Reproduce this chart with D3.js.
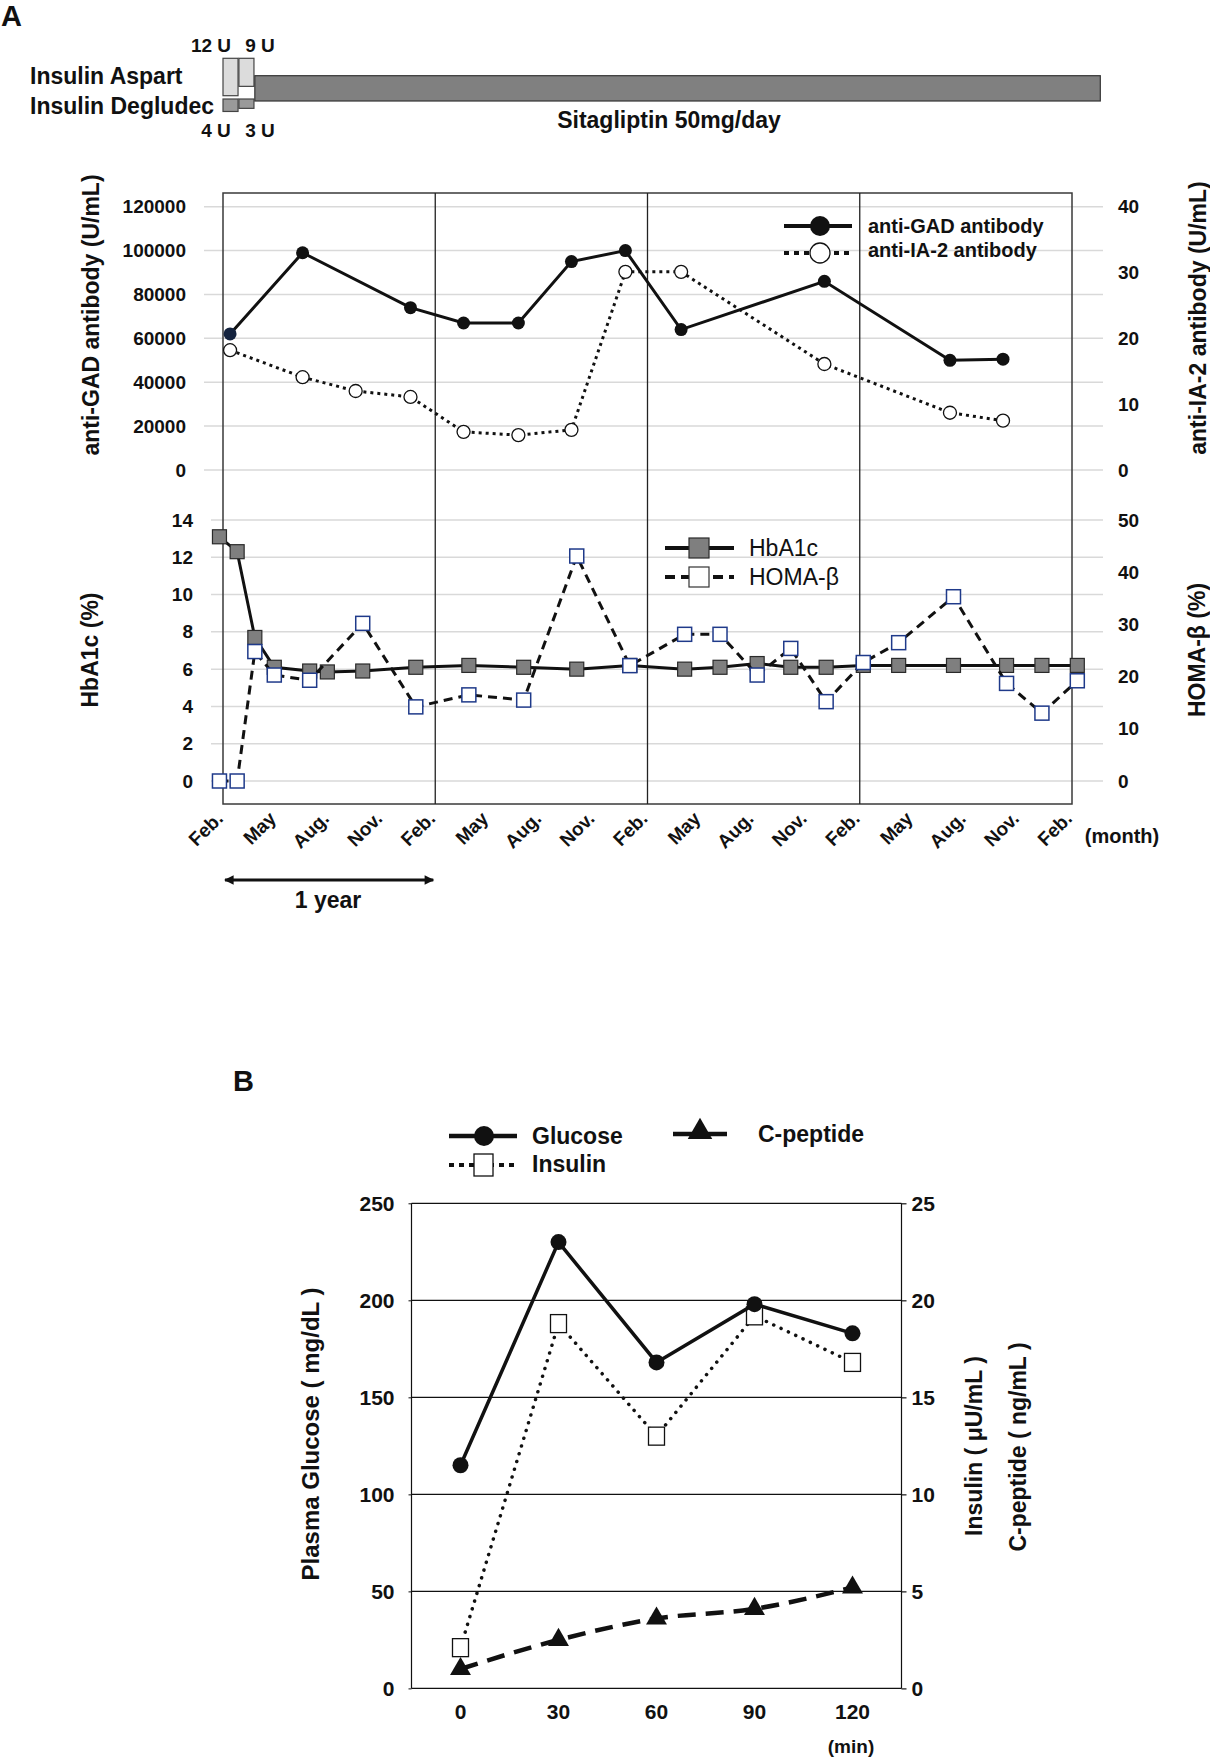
<!DOCTYPE html>
<html>
<head>
<meta charset="utf-8">
<script src="https://cdn.jsdelivr.net/npm/d3@7"></script>
<style>
  body { margin: 0; background: #fff; }
</style>
</head>
<body>
<div class="chart-container"></div>
<script>
// ---- panel A : treatment ----
const aspartDose = [12, 9];
const aspartSpan = [[0, 0.85], [0.9, 1.75]];   // months from first Feb.
const degludecDose = [4, 3];
const degludecSpan = [[0, 0.85], [0.9, 1.75]];
const sitagliptinSpan = [1.8, 49.6];

// ---- panel A : antibodies ----
const gadMonths = [0.4, 4.5, 10.6, 13.6, 16.7, 19.7, 22.75, 25.9, 34.0, 41.1, 44.1];
const gadValues = [62000, 99000, 74000, 67000, 67000, 95000, 100000, 64000, 86000, 50000, 50500];
const ia2Months = [0.4, 4.5, 7.5, 10.6, 13.6, 16.7, 19.7, 22.75, 25.9, 34.0, 41.1, 44.1];
const ia2Values = [18.2, 14.1, 12.0, 11.1, 5.8, 5.3, 6.1, 30.1, 30.1, 16.1, 8.7, 7.5];

// ---- panel A : HbA1c / HOMA-beta ----
const hbMonths = [-0.2, 0.8, 1.8, 2.9, 4.9, 5.9, 7.9, 10.9, 13.9, 17.0, 20.0, 23.0,
                  26.1, 28.1, 30.2, 32.1, 34.1, 36.2, 38.2, 41.3, 44.3, 46.3, 48.3];
const hbValues = [13.1, 12.3, 7.7, 6.1, 5.9, 5.85, 5.9, 6.1, 6.2, 6.1, 6.0, 6.2,
                  6.0, 6.1, 6.3, 6.1, 6.1, 6.2, 6.2, 6.2, 6.2, 6.2, 6.2];
const homaMonths = [-0.2, 0.8, 1.8, 2.9, 4.9, 7.9, 10.9, 13.9, 17.0, 20.0, 23.0,
                    26.1, 28.1, 30.2, 32.1, 34.1, 36.2, 38.2, 41.3, 44.3, 46.3, 48.3];
const homaValues = [0, 0, 24.8, 20.3, 19.3, 30.2, 14.2, 16.5, 15.5, 43.1, 22.1,
                    28.1, 28.1, 20.3, 25.4, 15.2, 22.7, 26.5, 35.3, 18.7, 13.0, 19.2];

const monthTicks = d3.range(0, 49, 3);
const monthLabels = ['Feb.', 'May', 'Aug.', 'Nov.', 'Feb.', 'May', 'Aug.', 'Nov.', 'Feb.',
                     'May', 'Aug.', 'Nov.', 'Feb.', 'May', 'Aug.', 'Nov.', 'Feb.'];
const gadTicks = [0, 20000, 40000, 60000, 80000, 100000, 120000];
const ia2Ticks = [0, 10, 20, 30, 40];
const hbTicks = [0, 2, 4, 6, 8, 10, 12, 14];
const homaTicks = [0, 10, 20, 30, 40, 50];

// ---- panel B : OGTT ----
const ogttTimes = ['0', '30', '60', '90', '120'];
const glucose = [115, 230, 168, 198, 183];
const insulin = [2.1, 18.8, 13.0, 19.2, 16.8];
const cpeptide = [1.0, 2.5, 3.6, 4.1, 5.2];
const glucoseTicks = [0, 50, 100, 150, 200, 250];
const insulinTicks = [0, 5, 10, 15, 20, 25];

const FONT = '"Liberation Sans", Arial, Helvetica, sans-serif';
const width = 1210;
const height = 1757;

const svg = d3.select('.chart-container')
  .append('svg')
  .attr('width', width)
  .attr('height', height)
  .attr('font-family', FONT)
  .attr('font-weight', 'bold')
  .style('background', '#fff');

function styleAxis(g, size) {
  g.attr('font-size', size).attr('font-family', FONT).attr('font-weight', 'bold');
  g.select('.domain').remove();
  g.selectAll('text').attr('fill', '#111');
}

function label(x, y, txt, size, opts = {}) {
  const t = svg.append('text')
    .attr('x', x).attr('y', y)
    .attr('dy', '0.35em')
    .attr('font-size', size)
    .attr('fill', '#111')
    .attr('text-anchor', opts.anchor || 'start')
    .text(txt);
  if (opts.rotate) t.attr('transform', `rotate(${opts.rotate},${x},${y})`);
  if (opts.weight) t.attr('font-weight', opts.weight);
  return t;
}

// ================= PANEL A =================
const frame = { left: 223, right: 1072, top: 193, bottom: 804 };
const xA = d3.scaleLinear().domain([0, 48]).range([frame.left, frame.right]);
const yGad = d3.scaleLinear().domain([0, 120000]).range([470, 206.7]);
const yIa2 = d3.scaleLinear().domain([0, 40]).range([470, 206.7]);
const yHb = d3.scaleLinear().domain([0, 14]).range([781, 520]);
const yHoma = d3.scaleLinear().domain([0, 50]).range([781, 520]);
const yDose = d3.scaleLinear().domain([0, 12]).range([0, 37.4]);

label(1, 16, 'A', 29);

// treatment bars
const treat = svg.append('g').attr('class', 'treatment');
treat.selectAll('.aspart')
  .data(aspartDose)
  .enter()
  .append('rect')
  .attr('class', 'aspart')
  .attr('x', (d, i) => xA(aspartSpan[i][0]))
  .attr('y', 58.3)
  .attr('width', (d, i) => xA(aspartSpan[i][1]) - xA(aspartSpan[i][0]))
  .attr('height', d => yDose(d))
  .style('fill', '#dcdcdc')
  .style('stroke', '#444')
  .style('stroke-width', 1.2);
treat.selectAll('.degludec')
  .data(degludecDose)
  .enter()
  .append('rect')
  .attr('class', 'degludec')
  .attr('x', (d, i) => xA(degludecSpan[i][0]))
  .attr('y', 99)
  .attr('width', (d, i) => xA(degludecSpan[i][1]) - xA(degludecSpan[i][0]))
  .attr('height', d => yDose(d))
  .style('fill', '#9a9a9a')
  .style('stroke', '#444')
  .style('stroke-width', 1.2);
treat.append('rect')
  .attr('x', xA(sitagliptinSpan[0]))
  .attr('y', 75.7)
  .attr('width', xA(sitagliptinSpan[1]) - xA(sitagliptinSpan[0]))
  .attr('height', 25.3)
  .style('fill', '#808080')
  .style('stroke', '#333')
  .style('stroke-width', 1.2);

label(30, 76, 'Insulin Aspart', 23);
label(30, 106, 'Insulin Degludec', 23);
aspartDose.forEach((d, i) => label(i === 0 ? 211 : 260, 45, `${d} U`, 19, { anchor: 'middle' }));
degludecDose.forEach((d, i) => label(i === 0 ? 216 : 260, 130, `${d} U`, 19, { anchor: 'middle' }));
label(669, 120, 'Sitagliptin 50mg/day', 23, { anchor: 'middle' });

// gridlines
svg.append('g').selectAll('line')
  .data(gadTicks)
  .enter()
  .append('line')
  .attr('x1', 204).attr('x2', 1103)
  .attr('y1', d => yGad(d)).attr('y2', d => yGad(d))
  .style('stroke', '#d9d9d9').style('stroke-width', 1.5);
svg.append('g').selectAll('line')
  .data(hbTicks)
  .enter()
  .append('line')
  .attr('x1', 211).attr('x2', 1103)
  .attr('y1', d => yHb(d)).attr('y2', d => yHb(d))
  .style('stroke', '#d9d9d9').style('stroke-width', 1.5);

// frame with yearly dividers
svg.append('rect')
  .attr('x', frame.left).attr('y', frame.top)
  .attr('width', frame.right - frame.left).attr('height', frame.bottom - frame.top)
  .style('fill', 'none').style('stroke', '#3a3a3a').style('stroke-width', 1.5);
svg.append('g').selectAll('line')
  .data([12, 24, 36])
  .enter()
  .append('line')
  .attr('x1', d => xA(d)).attr('x2', d => xA(d))
  .attr('y1', frame.top).attr('y2', frame.bottom)
  .style('stroke', '#222').style('stroke-width', 1.3);

// axes
svg.append('g').attr('transform', 'translate(186,0)')
  .call(d3.axisLeft(yGad).tickValues(gadTicks).tickFormat(d3.format('d')).tickSize(0).tickPadding(0))
  .call(g => styleAxis(g, 19));
svg.append('g').attr('transform', 'translate(1118,0)')
  .call(d3.axisRight(yIa2).tickValues(ia2Ticks).tickSize(0).tickPadding(0))
  .call(g => styleAxis(g, 19));
svg.append('g').attr('transform', 'translate(193,0)')
  .call(d3.axisLeft(yHb).tickValues(hbTicks).tickSize(0).tickPadding(0))
  .call(g => styleAxis(g, 19));
svg.append('g').attr('transform', 'translate(1118,0)')
  .call(d3.axisRight(yHoma).tickValues(homaTicks).tickSize(0).tickPadding(0))
  .call(g => styleAxis(g, 19));

svg.append('g').attr('transform', `translate(0,${frame.bottom})`)
  .call(d3.axisBottom(xA).tickValues(monthTicks).tickFormat((d, i) => monthLabels[i]).tickSize(0))
  .call(g => {
    styleAxis(g, 19);
    g.selectAll('text')
      .attr('y', 0).attr('dy', '0.35em')
      .attr('text-anchor', 'end')
      .attr('transform', 'translate(-4,11) rotate(-45)');
  });
label(1122, 836, '(month)', 20, { anchor: 'middle' });

label(91, 315, 'anti-GAD antibody (U/mL)', 23, { anchor: 'middle', rotate: -90 });
label(1198, 318, 'anti-IA-2 antibody (U/mL)', 23, { anchor: 'middle', rotate: -90 });
label(90, 650, 'HbA1c (%)', 23, { anchor: 'middle', rotate: -90 });
label(1197, 650, 'HOMA-β (%)', 23, { anchor: 'middle', rotate: -90 });

// 1 year arrow
const defs = svg.append('defs');
defs.append('marker')
  .attr('id', 'arrow')
  .attr('viewBox', '0 0 10 10')
  .attr('refX', 9).attr('refY', 5)
  .attr('markerWidth', 4).attr('markerHeight', 3.2)
  .attr('orient', 'auto-start-reverse')
  .append('path').attr('d', 'M0,0L10,5L0,10z').attr('fill', '#111');
svg.append('line')
  .attr('x1', xA(0) + 2).attr('x2', xA(12) - 2)
  .attr('y1', 880).attr('y2', 880)
  .style('stroke', '#111').style('stroke-width', 3)
  .attr('marker-start', 'url(#arrow)').attr('marker-end', 'url(#arrow)');
label(328, 900, '1 year', 23, { anchor: 'middle' });

// IA-2 (dotted, open circles)
const ia2Data = d3.zip(ia2Months, ia2Values);
svg.append('path')
  .datum(ia2Data)
  .attr('d', d3.line().x(d => xA(d[0])).y(d => yIa2(d[1])))
  .style('fill', 'none').style('stroke', '#111').style('stroke-width', 3)
  .style('stroke-dasharray', '3,4');
svg.selectAll('.ia2')
  .data(ia2Data)
  .enter()
  .append('circle')
  .attr('class', 'ia2')
  .attr('cx', d => xA(d[0])).attr('cy', d => yIa2(d[1])).attr('r', 6.5)
  .style('fill', '#fff').style('stroke', '#111').style('stroke-width', 1.3);

// GAD (solid, filled circles)
const gadData = d3.zip(gadMonths, gadValues);
svg.append('path')
  .datum(gadData)
  .attr('d', d3.line().x(d => xA(d[0])).y(d => yGad(d[1])))
  .style('fill', 'none').style('stroke', '#111').style('stroke-width', 3);
svg.selectAll('.gad')
  .data(gadData)
  .enter()
  .append('circle')
  .attr('class', 'gad')
  .attr('cx', d => xA(d[0])).attr('cy', d => yGad(d[1])).attr('r', 6.5)
  .style('fill', (d, i) => i === 0 ? '#14233f' : '#111');

// HbA1c (solid, grey squares)
const hbData = d3.zip(hbMonths, hbValues);
svg.append('path')
  .datum(hbData)
  .attr('d', d3.line().x(d => xA(d[0])).y(d => yHb(d[1])))
  .style('fill', 'none').style('stroke', '#111').style('stroke-width', 3);
svg.selectAll('.hb')
  .data(hbData)
  .enter()
  .append('rect')
  .attr('class', 'hb')
  .attr('x', d => xA(d[0]) - 7).attr('y', d => yHb(d[1]) - 7)
  .attr('width', 14).attr('height', 14)
  .style('fill', '#7f7f7f').style('stroke', '#2a2a2a').style('stroke-width', 1.2);

// HOMA-beta (dashed, open blue-edged squares)
const homaData = d3.zip(homaMonths, homaValues);
svg.append('path')
  .datum(homaData)
  .attr('d', d3.line().x(d => xA(d[0])).y(d => yHoma(d[1])))
  .style('fill', 'none').style('stroke', '#111').style('stroke-width', 3)
  .style('stroke-dasharray', '9,6');
svg.selectAll('.homa')
  .data(homaData)
  .enter()
  .append('rect')
  .attr('class', 'homa')
  .attr('x', d => xA(d[0]) - 7).attr('y', d => yHoma(d[1]) - 7)
  .attr('width', 14).attr('height', 14)
  .style('fill', '#fff').style('stroke', '#1f3a8a').style('stroke-width', 1.5);

// legends panel A
const legA = svg.append('g');
legA.append('line').attr('x1', 784).attr('x2', 852).attr('y1', 226).attr('y2', 226)
  .style('stroke', '#111').style('stroke-width', 4);
legA.append('circle').attr('cx', 820).attr('cy', 226).attr('r', 10).style('fill', '#111');
legA.append('line').attr('x1', 784).attr('x2', 852).attr('y1', 253).attr('y2', 253)
  .style('stroke', '#111').style('stroke-width', 4).style('stroke-dasharray', '5,5');
legA.append('circle').attr('cx', 820).attr('cy', 253).attr('r', 10)
  .style('fill', '#fff').style('stroke', '#111').style('stroke-width', 1.3);
label(868, 226, 'anti-GAD antibody', 20);
label(868, 250, 'anti-IA-2 antibody', 20);

legA.append('line').attr('x1', 665).attr('x2', 734).attr('y1', 548).attr('y2', 548)
  .style('stroke', '#111').style('stroke-width', 4);
legA.append('rect').attr('x', 689).attr('y', 538).attr('width', 20).attr('height', 20)
  .style('fill', '#7f7f7f').style('stroke', '#2a2a2a').style('stroke-width', 1.2);
legA.append('line').attr('x1', 665).attr('x2', 734).attr('y1', 577).attr('y2', 577)
  .style('stroke', '#111').style('stroke-width', 4).style('stroke-dasharray', '10,6');
legA.append('rect').attr('x', 689).attr('y', 567).attr('width', 20).attr('height', 20)
  .style('fill', '#fff').style('stroke', '#333').style('stroke-width', 1.2);
label(749, 548, 'HbA1c', 23, { weight: 'normal' });
label(749, 577, 'HOMA-β', 23, { weight: 'normal' });

// ================= PANEL B =================
const plotB = { left: 411.5, right: 901.5, top: 1203.3, bottom: 1688.4 };
const xB = d3.scaleBand().domain(ogttTimes).range([plotB.left, plotB.right]);
const cx = d => xB(d) + xB.bandwidth() / 2;
const yGlu = d3.scaleLinear().domain([0, 250]).range([plotB.bottom, plotB.top]);
const yIns = d3.scaleLinear().domain([0, 25]).range([plotB.bottom, plotB.top]);

label(233, 1081, 'B', 29);

svg.append('g').selectAll('line')
  .data(glucoseTicks)
  .enter()
  .append('line')
  .attr('x1', plotB.left).attr('x2', plotB.right)
  .attr('y1', d => yGlu(d)).attr('y2', d => yGlu(d))
  .style('stroke', '#111').style('stroke-width', 1.2);
svg.append('line').attr('x1', plotB.left).attr('x2', plotB.left)
  .attr('y1', plotB.top).attr('y2', plotB.bottom).style('stroke', '#111').style('stroke-width', 1.2);
svg.append('line').attr('x1', plotB.right).attr('x2', plotB.right)
  .attr('y1', plotB.top).attr('y2', plotB.bottom).style('stroke', '#111').style('stroke-width', 1.2);

svg.append('g').attr('transform', `translate(${plotB.left},0)`)
  .call(d3.axisLeft(yGlu).tickValues(glucoseTicks).tickSize(3).tickPadding(14))
  .call(g => { styleAxis(g, 21); g.selectAll('line').style('stroke', '#111'); });
svg.append('g').attr('transform', `translate(${plotB.right},0)`)
  .call(d3.axisRight(yIns).tickValues(insulinTicks).tickSize(5).tickPadding(5))
  .call(g => { styleAxis(g, 21); g.selectAll('line').style('stroke', '#111').style('stroke-width', 1.2); });
svg.append('g').attr('transform', `translate(0,${plotB.bottom})`)
  .call(d3.axisBottom(xB).tickSize(0).tickPadding(16))
  .call(g => styleAxis(g, 21));
label(851, 1746, '(min)', 19, { anchor: 'middle' });

label(311, 1434, 'Plasma Glucose ( mg/dL )', 24, { anchor: 'middle', rotate: -90 });
label(974, 1446, 'Insulin ( μU/mL )', 23, { anchor: 'middle', rotate: -90 });
label(1018, 1447, 'C-peptide ( ng/mL )', 23, { anchor: 'middle', rotate: -90 });

// C-peptide (dashed, triangles)
const cpData = d3.zip(ogttTimes, cpeptide);
svg.append('path')
  .datum(cpData)
  .attr('d', d3.line().curve(d3.curveMonotoneX).x(d => cx(d[0])).y(d => yIns(d[1])))
  .style('fill', 'none').style('stroke', '#111').style('stroke-width', 4.5)
  .style('stroke-dasharray', '18,10');
svg.selectAll('.cp')
  .data(cpData)
  .enter()
  .append('path')
  .attr('class', 'cp')
  .attr('transform', d => `translate(${cx(d[0])},${yIns(d[1])})`)
  .attr('d', d3.symbol(d3.symbolTriangle, 190))
  .style('fill', '#111');

// Insulin (dotted, open squares)
const insData = d3.zip(ogttTimes, insulin);
svg.append('path')
  .datum(insData)
  .attr('d', d3.line().x(d => cx(d[0])).y(d => yIns(d[1])))
  .style('fill', 'none').style('stroke', '#111').style('stroke-width', 3.5)
  .style('stroke-linecap', 'round').style('stroke-dasharray', '0.1,8');
svg.selectAll('.ins')
  .data(insData)
  .enter()
  .append('rect')
  .attr('class', 'ins')
  .attr('x', d => cx(d[0]) - 8).attr('y', d => yIns(d[1]) - 9)
  .attr('width', 16).attr('height', 18)
  .style('fill', '#fff').style('stroke', '#111').style('stroke-width', 1.3);

// Glucose (solid, filled circles)
const gluData = d3.zip(ogttTimes, glucose);
svg.append('path')
  .datum(gluData)
  .attr('d', d3.line().x(d => cx(d[0])).y(d => yGlu(d[1])))
  .style('fill', 'none').style('stroke', '#111').style('stroke-width', 3.5);
svg.selectAll('.glu')
  .data(gluData)
  .enter()
  .append('circle')
  .attr('class', 'glu')
  .attr('cx', d => cx(d[0])).attr('cy', d => yGlu(d[1])).attr('r', 8)
  .style('fill', '#111');

// legend panel B
const legB = svg.append('g');
legB.append('line').attr('x1', 449).attr('x2', 517).attr('y1', 1136).attr('y2', 1136)
  .style('stroke', '#111').style('stroke-width', 4.5);
legB.append('circle').attr('cx', 484).attr('cy', 1136).attr('r', 10).style('fill', '#111');
legB.append('line').attr('x1', 449).attr('x2', 517).attr('y1', 1165).attr('y2', 1165)
  .style('stroke', '#111').style('stroke-width', 4).style('stroke-dasharray', '5,5');
legB.append('rect').attr('x', 474).attr('y', 1154).attr('width', 19).attr('height', 22)
  .style('fill', '#fff').style('stroke', '#111').style('stroke-width', 1.3);
legB.append('line').attr('x1', 673).attr('x2', 727).attr('y1', 1134).attr('y2', 1134)
  .style('stroke', '#111').style('stroke-width', 4.5);
legB.append('path').attr('transform', 'translate(700,1132)')
  .attr('d', d3.symbol(d3.symbolTriangle, 260)).style('fill', '#111');
label(532, 1136, 'Glucose', 23);
label(532, 1164, 'Insulin', 23);
label(758, 1134, 'C-peptide', 23);
</script>
</body>
</html>
